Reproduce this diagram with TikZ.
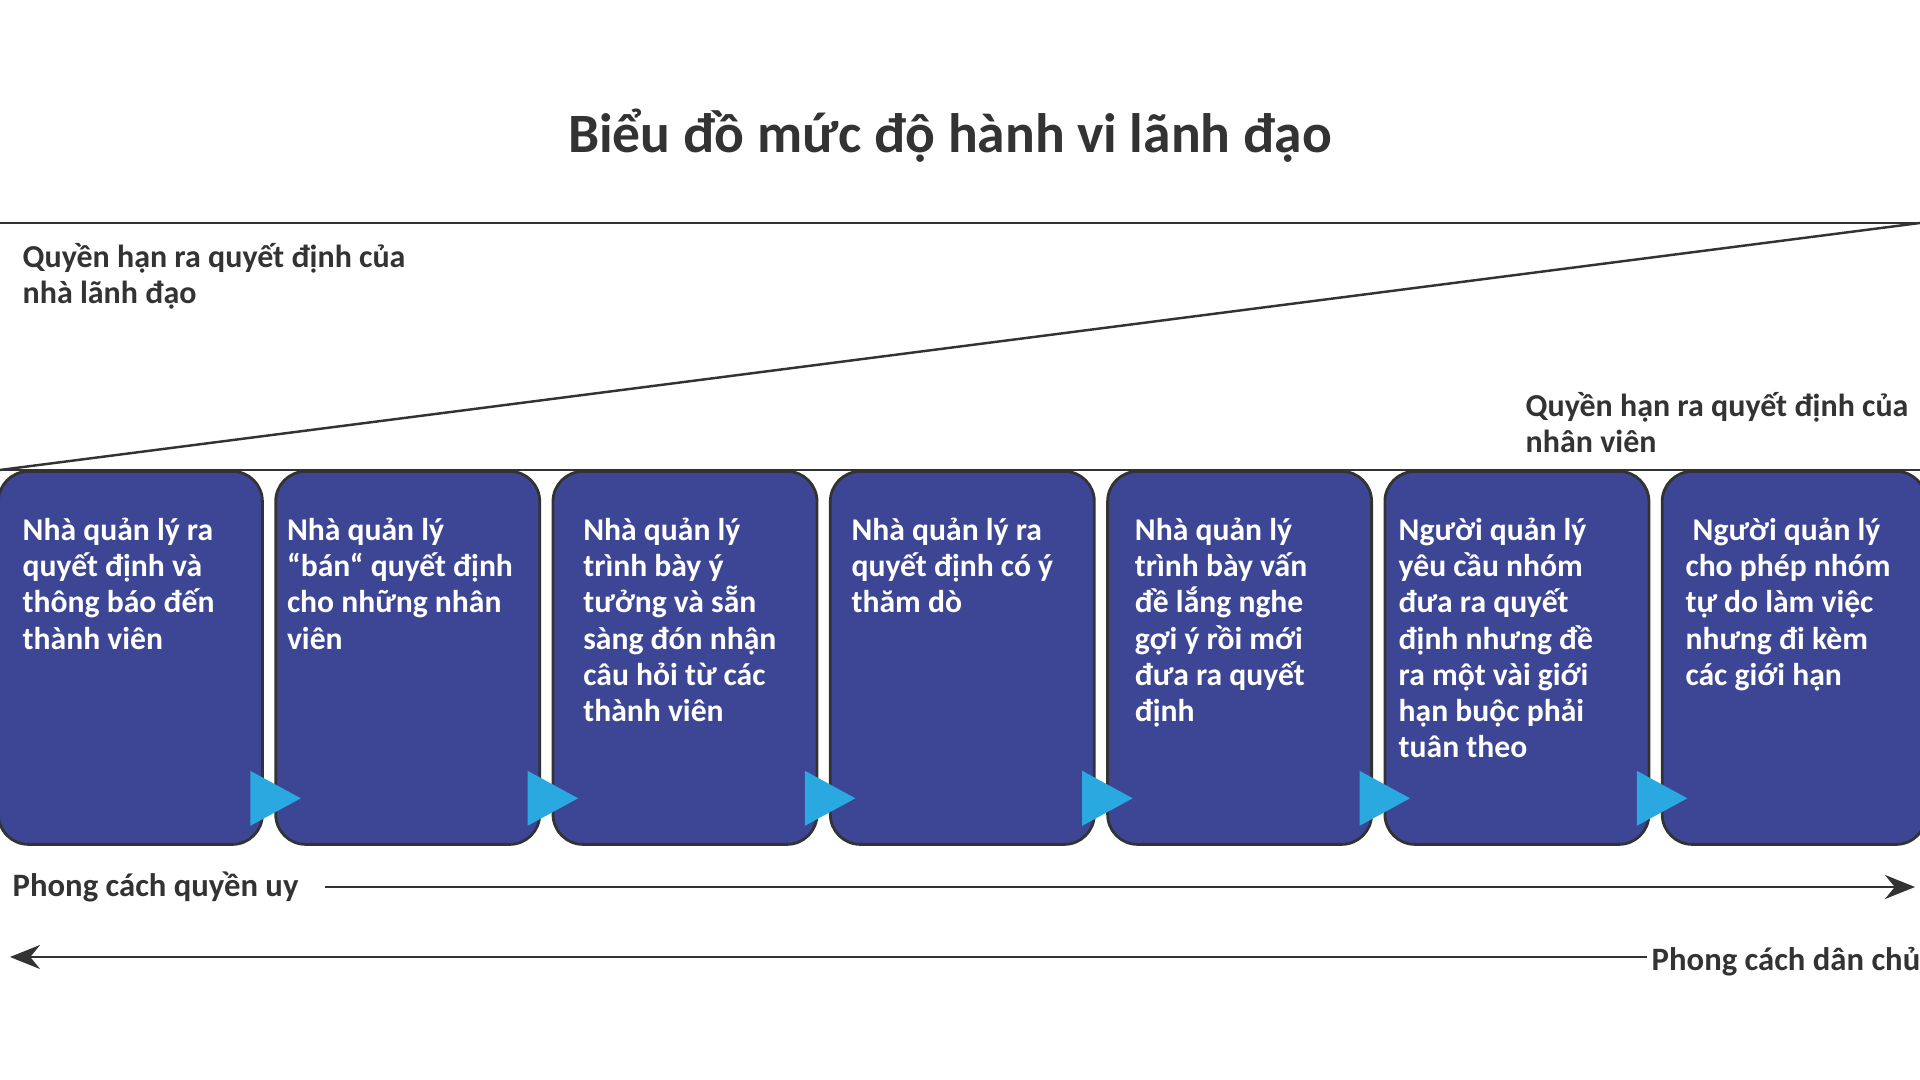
\documentclass[tikz,border=0pt]{standalone}
\usepackage{fontspec}
\setmainfont{Carlito}
\usepackage{xcolor}
\usepackage{tikz}
\usetikzlibrary{calc}
\usetikzlibrary{arrows.meta}
\definecolor{boxblue}{HTML}{3C4694}
\definecolor{triblue}{HTML}{2AA9E0}
\definecolor{inkgray}{HTML}{333333}

\begin{document}
\begin{tikzpicture}[
    stage/.style={draw=inkgray, line width=0.8pt, fill=boxblue, rounded corners=0.3cm,
        minimum width=2.64cm, minimum height=3.73cm, anchor=north west, inner sep=0pt},
    stagetext/.style={anchor=north west, align=left, inner sep=0pt, text=white,
        font=\bfseries\fontsize{9}{10.27}\selectfont, execute at begin node=\strut},
    sidetext/.style={anchor=north west, align=left, inner sep=0pt, text=inkgray,
        font=\bfseries\fontsize{9.1}{10.3}\selectfont, execute at begin node=\strut},
    styletext/.style={anchor=base west, inner sep=0pt, text=inkgray,
        font=\bfseries\fontsize{9.3}{11}\selectfont},
    tri/.style={fill=triblue},
    axis/.style={draw=inkgray, line width=0.7pt}
    ]
        %KHUNG
        \useasboundingbox (0,0) rectangle (19.2,10.8);
        \fill[white] (0,0) rectangle (19.2,10.8);
        %TIEU DE
        \node[anchor=base, inner sep=0pt, text=inkgray, font=\bfseries\fontsize{15.8}{19}\selectfont] (title) at (9.5,9.27) {Biểu đồ mức độ hành vi lãnh đạo};
        %DUONG QUYEN HAN
        \coordinate (TL) at (0,8.57);
        \coordinate (TR) at (19.2,8.57);
        \coordinate (BL) at (0,6.10);
        \coordinate (BR) at (19.2,6.10);
        \draw[axis] (TL) -- (TR);
        \draw[axis] (BL) -- (TR);
        \draw[axis] (BL) -- (BR);
        \node[sidetext] (leader) at (0.22,8.37) {Quyền hạn ra quyết định của\\nhà lãnh đạo};
        \node[sidetext] (staff) at (15.25,6.88) {Quyền hạn ra quyết định của\\nhân viên};
        %CAC MUC
        \node[stage] (s1) at (-0.03,6.10) {};
        \node[stage] (s2) at (2.743,6.10) {};
        \node[stage] (s3) at (5.516,6.10) {};
        \node[stage] (s4) at (8.289,6.10) {};
        \node[stage] (s5) at (11.062,6.10) {};
        \node[stage] (s6) at (13.835,6.10) {};
        \node[stage] (s7) at (16.608,6.10) {};
        \node[stagetext] (t1) at ($(s1.north west)+(0.25,-0.476)$) {Nhà quản lý ra\\quyết định và\\thông báo đến\\thành viên};
        \node[stagetext] (t2) at ($(s2.north west)+(0.12,-0.476)$) {Nhà quản lý\\“bán“ quyết định\\cho những nhân\\viên};
        \node[stagetext] (t3) at ($(s3.north west)+(0.31,-0.476)$) {Nhà quản lý\\trình bày ý\\tưởng và sẵn\\sàng đón nhận\\câu hỏi từ các\\thành viên};
        \node[stagetext] (t4) at ($(s4.north west)+(0.22,-0.476)$) {Nhà quản lý ra\\quyết định có ý\\thăm dò};
        \node[stagetext] (t5) at ($(s5.north west)+(0.28,-0.476)$) {Nhà quản lý\\trình bày vấn\\đề lắng nghe\\gợi ý rồi mới\\đưa ra quyết\\định};
        \node[stagetext] (t6) at ($(s6.north west)+(0.145,-0.476)$) {Người quản lý\\yêu cầu nhóm\\đưa ra quyết\\định nhưng đề\\ra một vài giới\\hạn buộc phải\\tuân theo};
        \node[stagetext] (t7) at ($(s7.north west)+(0.24,-0.476)$) {\ Người quản lý\\cho phép nhóm\\tự do làm việc\\nhưng đi kèm\\các giới hạn};
        %MUI TEN XANH
        \fill[tri] ($(s1.south east)+(-0.135,0.2)$) -- ($(s1.south east)+(0.37,0.475)$) -- ($(s1.south east)+(-0.135,0.75)$) -- cycle;
        \fill[tri] ($(s2.south east)+(-0.135,0.2)$) -- ($(s2.south east)+(0.37,0.475)$) -- ($(s2.south east)+(-0.135,0.75)$) -- cycle;
        \fill[tri] ($(s3.south east)+(-0.135,0.2)$) -- ($(s3.south east)+(0.37,0.475)$) -- ($(s3.south east)+(-0.135,0.75)$) -- cycle;
        \fill[tri] ($(s4.south east)+(-0.135,0.2)$) -- ($(s4.south east)+(0.37,0.475)$) -- ($(s4.south east)+(-0.135,0.75)$) -- cycle;
        \fill[tri] ($(s5.south east)+(-0.135,0.2)$) -- ($(s5.south east)+(0.37,0.475)$) -- ($(s5.south east)+(-0.135,0.75)$) -- cycle;
        \fill[tri] ($(s6.south east)+(-0.135,0.2)$) -- ($(s6.south east)+(0.37,0.475)$) -- ($(s6.south east)+(-0.135,0.75)$) -- cycle;
        %PHONG CACH
        \node[styletext] (auth) at (0.12,1.83) {Phong cách quyền uy};
        \node[styletext] (demo) at (16.51,1.09) {Phong cách dân chủ};
        \coordinate (authstart) at (3.25,1.93);
        \coordinate (authend) at (19.15,1.93);
        \coordinate (demostart) at (16.47,1.23);
        \coordinate (demoend) at (0.10,1.23);
        \draw[axis, -{Stealth[length=0.3cm, width=0.24cm]}] (authstart) -- (authend);
        \draw[axis, -{Stealth[length=0.3cm, width=0.24cm]}] (demostart) -- (demoend);
    \end{tikzpicture}
\end{document}
